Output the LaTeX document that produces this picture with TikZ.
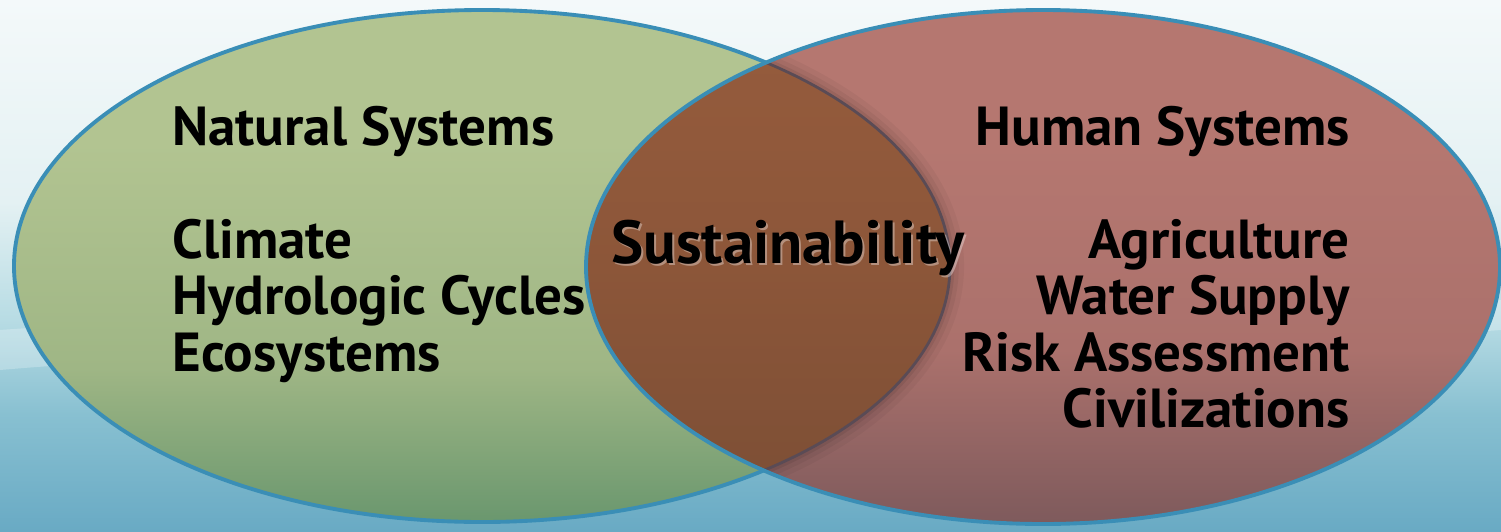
\documentclass[tikz,border=0pt]{standalone}
\usepackage{fontspec}
\setmainfont{PT Sans}
\usetikzlibrary{fadings}

% palette
\definecolor{bgA}{HTML}{F4F9FA}
\definecolor{bgB}{HTML}{E4F1F3}
\definecolor{bgC}{HTML}{B8DCE4}
\definecolor{bgD}{HTML}{88C0D1}
\definecolor{bgE}{HTML}{69AAC4}
\definecolor{grA}{HTML}{B2C491}
\definecolor{grB}{HTML}{9FB685}
\definecolor{grC}{HTML}{6A976E}
\definecolor{rdA}{HTML}{B57770}
\definecolor{rdB}{HTML}{AB716C}
\definecolor{rdC}{HTML}{7E5A5C}
\definecolor{brA}{HTML}{965C3D}
\definecolor{brB}{HTML}{8C5639}
\definecolor{brC}{HTML}{7B4E35}
\definecolor{rim}{HTML}{3A8EB6}
\definecolor{innerrim}{HTML}{5A4B55}

% vertical shadings (0bp = bottom; the path spans 25bp..75bp)
\pgfdeclareverticalshading{bgshade}{100bp}{color(0bp)=(bgE); color(25bp)=(bgE); color(36bp)=(bgD); color(45bp)=(bgC); color(56bp)=(bgB); color(75bp)=(bgA); color(100bp)=(bgA)}
\pgfdeclareverticalshading{greenshade}{100bp}{color(0bp)=(grC); color(25bp)=(grC); color(40bp)=(grB); color(62bp)=(grA); color(75bp)=(grA); color(100bp)=(grA)}
\pgfdeclareverticalshading{redshade}{100bp}{color(0bp)=(rdC); color(25bp)=(rdC); color(42bp)=(rdB); color(62bp)=(rdA); color(75bp)=(rdA); color(100bp)=(rdA)}
\pgfdeclareverticalshading{brownshade}{100bp}{color(0bp)=(brC); color(25bp)=(brC); color(50bp)=(brB); color(75bp)=(brA); color(100bp)=(brA)}

\tikzset{
  label/.style={font=\fontsize{31.3}{31.3}\selectfont\bfseries, text=black, inner sep=0pt},
  biglabel/.style={label, font=\fontsize{34.6}{34.6}\selectfont\bfseries},
  leftlabel/.style={label, anchor=base west},
  rightlabel/.style={label, anchor=base east},
  rimline/.style={draw=rim, line width=2.2pt},
}

\begin{document}
\begin{tikzpicture}[x=0.02cm, y=-0.02cm]
  % backdrop
  \useasboundingbox (0,0) rectangle (1501,531);
  \shade[shading=bgshade] (0,0) rectangle (1501,531);
  % soft pale streak across the lower backdrop
  \fill[white, opacity=0.25] (0,330) .. controls (400,300) and (1100,330) .. (1501,300)
      -- (1501,330) .. controls (1100,360) and (400,335) .. (0,370) -- cycle;

  \coordinate (L) at (482,266);
  \coordinate (R) at (1043,267);

  % Natural systems ellipse
  \shade[shading=greenshade] (L) ellipse [x radius=468, y radius=256];
  \draw[rimline] (L) ellipse [x radius=468, y radius=256];

  % Human systems ellipse
  \shade[shading=redshade] (R) ellipse [x radius=457, y radius=257];

  % overlap
  \begin{scope}
    \clip (R) ellipse [x radius=457, y radius=257];
    % soft shadow just outside the lens
    \begin{scope}[even odd rule]
      \clip (-10,-10) rectangle (1511,541) (L) ellipse [x radius=468, y radius=256];
      \foreach \w/\o in {16/0.04, 10/0.05, 5/0.07} {
        \draw[black, opacity=\o, line width=\w pt] (L) ellipse [x radius=468, y radius=256];
      }
    \end{scope}
    \shade[shading=brownshade] (L) ellipse [x radius=468, y radius=256];
    \draw[draw=innerrim, line width=1.6pt] (L) ellipse [x radius=468, y radius=256];
  \end{scope}
  \draw[rimline] (R) ellipse [x radius=457, y radius=257];

  % left labels
  \node[leftlabel] (nat) at (172,145) {Natural Systems};
  \node[leftlabel] (cli) at (172,258) {Climate};
  \node[leftlabel] (hyd) at (172,314) {Hydrologic Cycles};
  \node[leftlabel] (eco) at (172,371) {Ecosystems};

  % right labels
  \node[rightlabel] (hum) at (1350,145) {Human Systems};
  \node[rightlabel] (agr) at (1350,258) {Agriculture};
  \node[rightlabel] (wat) at (1350,314) {Water Supply};
  \node[rightlabel] (ris) at (1350,371) {Risk Assessment};
  \node[rightlabel] (civ) at (1350,427) {Civilizations};

  % centre label with a pale glow
  \node[biglabel, anchor=base west, text=white, opacity=0.35] (susg) at (613,265) {Sustainability};
  \node[biglabel, anchor=base west] (sus) at (611,263) {Sustainability};
\end{tikzpicture}
\end{document}
